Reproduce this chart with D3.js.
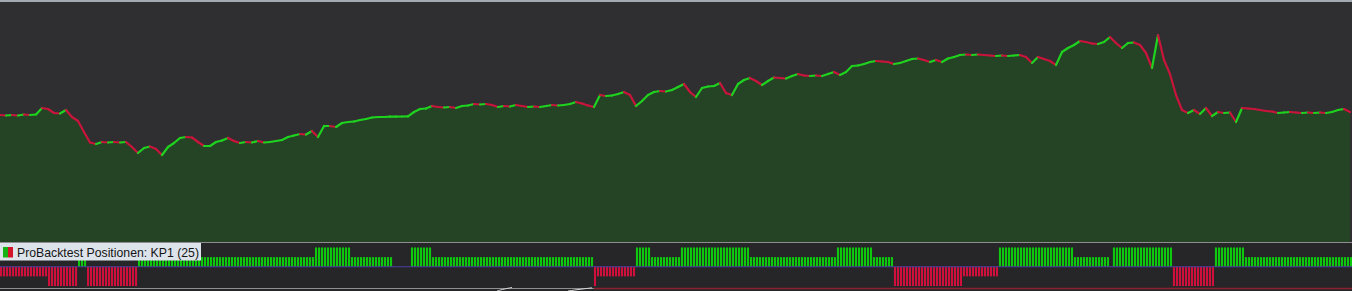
<!DOCTYPE html>
<html>
<head>
<meta charset="utf-8">
<script src="https://cdn.jsdelivr.net/npm/d3@7"></script>
<style>
    html, body { margin: 0; padding: 0; background: #262628; overflow: hidden; }
    svg { display: block; }
</style>
</head>
<body>
<div id="chart"></div>
<script>
// equity curve, one value every 6 px of the panel
const equity = [
    127, 126.5, 127, 126.5, 127.5, 127, 127.5, 134, 133, 129, 128.5, 132, 125, 121, 110, 99.5,
    98, 100, 99.5, 100, 99.5, 100, 95, 89, 94, 95.5, 93, 87, 95, 99, 104, 105,
    104.5, 100, 96, 96, 100, 101.5, 104, 101, 99, 100, 99.5, 101, 99.5, 100, 101, 102,
    105, 106.5, 108, 107.5, 111, 105, 116, 116, 115, 119, 120, 120.5, 122, 123, 124.5, 125,
    125, 125.3, 125.4, 125.5, 125.6, 130, 133, 133.5, 136, 135, 134.5, 135, 134, 136, 136.5, 138,
    137.5, 138, 137, 135, 136, 135.5, 137, 136, 135, 135.5, 135, 136, 137, 136.5, 137, 138,
    140, 138.5, 136.5, 135, 147, 146, 146.5, 148, 150, 147, 136, 141, 147, 150, 151, 150.5,
    152, 155, 158, 150, 145, 154, 155.5, 156, 159, 149, 147, 158, 162, 164, 161, 157,
    161, 164.5, 164, 163.5, 166, 168, 166.5, 166, 166.5, 166, 168, 170, 167, 170, 176, 176.5,
    178, 180, 181, 180.5, 180, 178, 179, 181, 183, 183.5, 182, 180, 182, 180, 183.5, 185,
    187, 187.5, 187, 187.5, 187, 186.5, 186, 186.5, 186, 186.5, 187, 185, 179, 185, 183, 181,
    177, 190, 194, 197, 201, 200, 198.5, 198, 200, 205, 199, 194, 199, 199.5, 197, 189,
    174, 207, 182, 168, 147, 132, 129, 132, 128, 134, 126, 130, 129, 129.5, 120, 134,
    133.5, 133, 132, 131, 130.5, 129, 129.5, 130, 129.5, 129, 129.5, 129, 129.5, 129, 130, 132,
    133, 130
];

// ProBacktest positions as runs: [number of bars, position size]
const positionRuns = [
    [16, -1], [10, -2], [3, 1], [17, -2], [59, 1], [12, 2], [14, 1], [6, 0], [7, 2],
    [54, 1], [1, -2], [13, -1], [5, 2], [10, 1], [23, 2], [29, 1], [12, 2], [7, 1],
    [23, -2], [12, -1], [25, 2], [12, 1], [1, 0], [20, 2], [14, -2], [10, 2], [36, 1]
];

// two traces of another indicator peeking in at the bottom edge
const otherTraceA = [[0, 0], [0.5, 0.6], [1, 1]];
const otherTraceB = [[0, 0], [0.5, 0.5], [1, 0.9]];

const legendText = 'ProBacktest Positionen: KP1 (25)';

const W = 1352, H = 291;
const mainBottom = 242;
const GREEN = '#1fd21f', RED = '#c9143c';

const svg = d3.select('#chart').append('svg')
    .attr('width', W)
    .attr('height', H);

// ---- main panel
svg.append('rect').attr('x', 0).attr('y', 0).attr('width', W).attr('height', mainBottom)
    .attr('fill', '#2f2e30');

const x = d3.scaleLinear().domain([0, equity.length - 1]).range([0, 1350]);
const y = d3.scaleLinear().domain([0, 242]).range([mainBottom, 0]);

const area = d3.area()
    .x((d, i) => x(i))
    .y0(mainBottom)
    .y1(d => y(d));

svg.append('path')
    .datum(equity)
    .attr('d', area)
    .attr('fill', '#254425');

// each step coloured by direction
const steps = d3.pairs(equity.map((v, i) => [i, v]));
svg.append('g')
    .selectAll('line')
    .data(steps)
    .join('line')
    .attr('x1', d => x(d[0][0]))
    .attr('y1', d => y(d[0][1]))
    .attr('x2', d => x(d[1][0]))
    .attr('y2', d => y(d[1][1]))
    .attr('stroke', d => d[1][1] >= d[0][1] ? GREEN : RED)
    .attr('stroke-width', 2.2)
    .attr('stroke-linecap', 'round');

svg.append('rect').attr('x', 0).attr('y', 0).attr('width', W).attr('height', 2)
    .attr('fill', '#a3a9b0');

// ---- positions panel
const positions = positionRuns.flatMap(([n, v]) => Array(n).fill(v));

svg.append('rect').attr('x', 0).attr('y', mainBottom).attr('width', W).attr('height', H - mainBottom)
    .attr('fill', '#262628');
svg.append('rect').attr('x', 0).attr('y', mainBottom).attr('width', W).attr('height', 1)
    .attr('fill', '#8e8e90');

const xb = d3.scaleBand().domain(d3.range(positions.length)).range([0, W]).paddingInner(0.3);
const yb = d3.scaleLinear().domain([-2, 2]).range([286, 247.5]);

svg.append('g')
    .selectAll('rect')
    .data(positions.map((v, i) => ({ i, v })).filter(d => d.v !== 0))
    .join('rect')
    .attr('x', d => xb(d.i))
    .attr('width', xb.bandwidth())
    .attr('y', d => Math.min(yb(d.v), yb(0)))
    .attr('height', d => Math.abs(yb(d.v) - yb(0)))
    .attr('fill', d => d.v > 0 ? '#0ec80e' : '#cf0f3c');

svg.append('line')
    .attr('x1', 0).attr('x2', W)
    .attr('y1', yb(0)).attr('y2', yb(0))
    .attr('stroke', '#4a3fa0')
    .attr('stroke-width', 1.2);

// bottom edge: grey before the red trade, dark red after
const splitX = xb(198);
svg.append('line')
    .attr('x1', 0).attr('x2', splitX).attr('y1', 288.5).attr('y2', 288.5)
    .attr('stroke', '#8f8f92').attr('stroke-width', 1);
svg.append('line')
    .attr('x1', splitX).attr('x2', W).attr('y1', 288.5).attr('y2', 288.5)
    .attr('stroke', '#8a2030').attr('stroke-width', 1.5);

const trace = d3.line().curve(d3.curveBasis);
const ta = d3.scaleLinear().domain([0, 1]);
[[otherTraceA, 497, 512], [otherTraceB, 568, 592]].forEach(([pts, x0, x1]) => {
    ta.range([x0, x1]);
    const ty = d3.scaleLinear().domain([0, 1]).range([291, 287.5]);
    svg.append('path')
        .attr('d', trace(pts.map(p => [ta(p[0]), ty(p[1])])))
        .attr('fill', 'none')
        .attr('stroke', '#d8d8d8')
        .attr('stroke-width', 1);
});

// legend
const legend = svg.append('g').attr('transform', `translate(0,${mainBottom + 1})`);
legend.append('rect').attr('x', 0).attr('y', 0).attr('width', 201).attr('height', 17.5)
    .attr('fill', '#dde3ea');
legend.append('rect').attr('x', 3).attr('y', 4).attr('width', 5).attr('height', 10.5).attr('fill', '#12b312');
legend.append('rect').attr('x', 8).attr('y', 4).attr('width', 5).attr('height', 10.5).attr('fill', '#d4142a');
legend.append('text')
    .attr('x', 17).attr('y', 14.3)
    .attr('font-family', '"Liberation Sans", Arial, sans-serif')
    .attr('font-size', 13.5)
    .attr('textLength', 182)
    .attr('lengthAdjust', 'spacingAndGlyphs')
    .attr('fill', '#141414')
    .text(legendText);
</script>
</body>
</html>
